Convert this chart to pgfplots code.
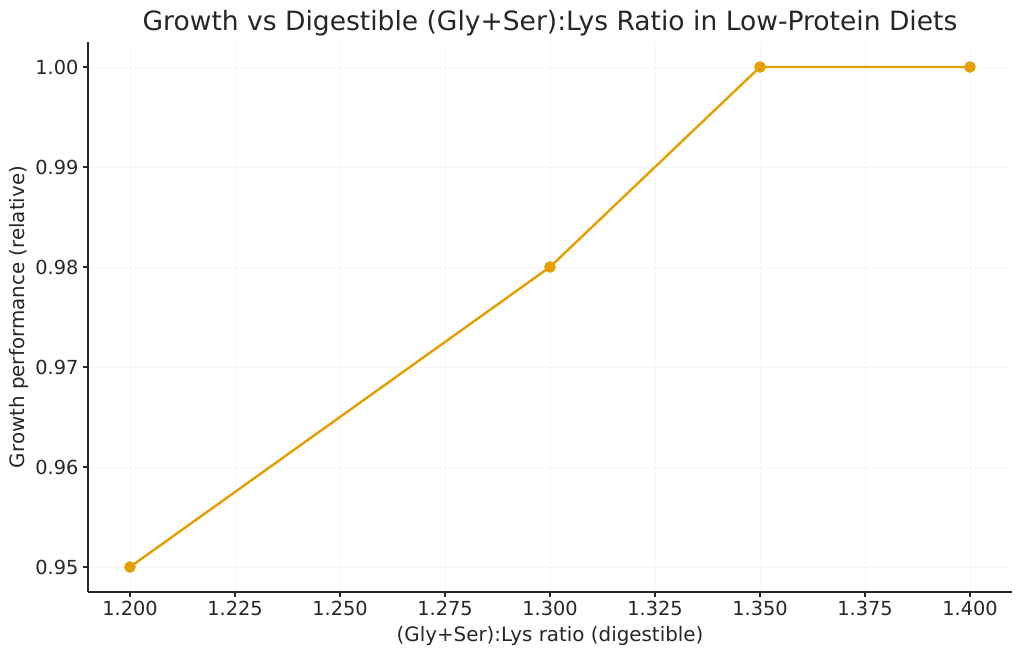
\documentclass[border=0pt]{standalone}
\usepackage{pgfplots}
\pgfplotsset{compat=1.18}
\usepackage{fontspec}
\setmainfont{DejaVu Sans}
\definecolor{lineor}{HTML}{E69F00}
\definecolor{txt}{HTML}{262626}
\begin{document}
\begin{tikzpicture}[x=1pt,y=1pt]
\path[use as bounding box] (-66,-48) rectangle (702,444);
\begin{axis}[
  at={(0,0)}, anchor=south west,
  scale only axis,
  width=693pt, height=412.5pt,
  xmin=1.19, xmax=1.41,
  ymin=0.9475, ymax=1.0025,
  axis lines*=left,
  axis line style={txt, line width=0.8pt},
  xtick={1.2,1.225,1.25,1.275,1.3,1.325,1.35,1.375,1.4},
  ytick={0.95,0.96,0.97,0.98,0.99,1.0},
  xticklabel style={/pgf/number format/.cd, fixed, fixed zerofill, precision=3},
  yticklabel style={/pgf/number format/.cd, fixed, fixed zerofill, precision=2},
  /pgf/number format/assume math mode=true,
  tick align=outside,
  tick style={txt, line width=0.8pt},
  major tick length=3.6pt,
  tick label style={font=\fontsize{14.5}{16}\selectfont, text=txt},
  grid=major,
  grid style={gray!6, line width=0.6pt},
  xlabel={(Gly+Ser):Lys ratio (digestible)},
  ylabel={Growth performance (relative)},
  label style={font=\fontsize{14.9}{17}\selectfont, text=txt},
  xlabel style={yshift=-1pt},
  ylabel style={yshift=-2pt},
  title={Growth vs Digestible (Gly+Ser):Lys Ratio in Low-Protein Diets},
  title style={font=\fontsize{19.9}{23}\selectfont, text=txt, yshift=-5pt},
  clip=false,
]
\addplot[color=lineor, line width=1.8pt, mark=*, mark size=3.4pt, mark options={solid, fill=lineor, draw=lineor}]
  coordinates {(1.2,0.95) (1.3,0.98) (1.35,1.0) (1.4,1.0)};
\end{axis}
\end{tikzpicture}
\end{document}
